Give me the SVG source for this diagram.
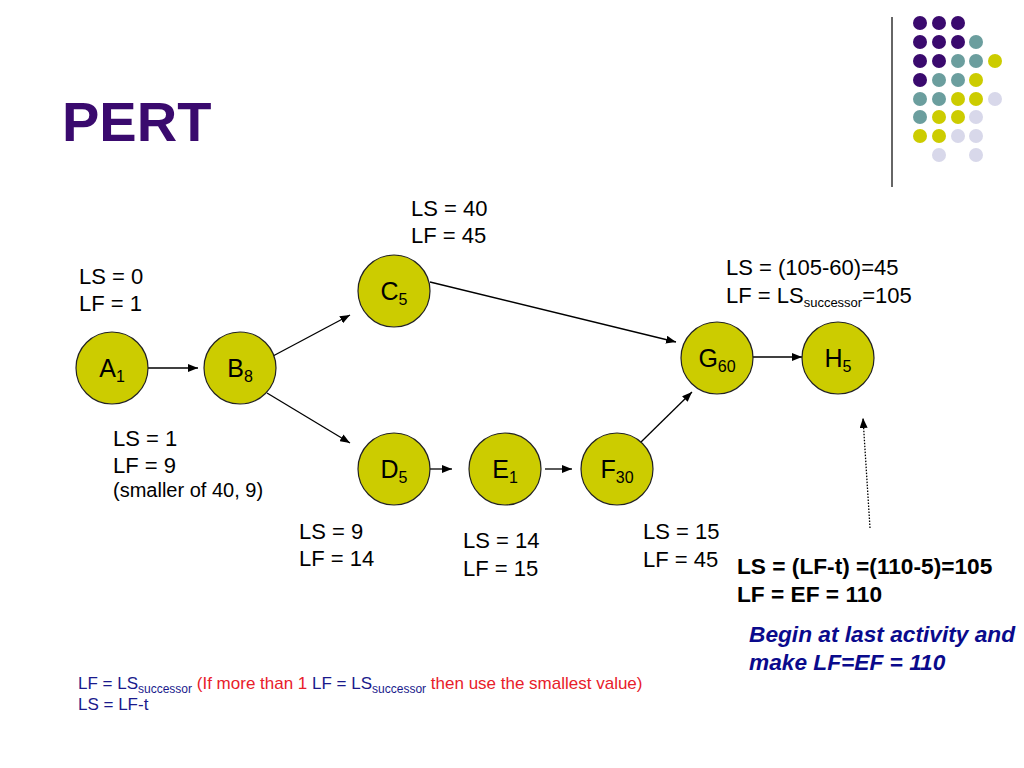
<svg xmlns="http://www.w3.org/2000/svg" width="1024" height="768" viewBox="0 0 1024 768">
<style>
  text { font-family: "Liberation Sans", Arial, sans-serif; }
  .lbl { font-size: 22px; fill: #000; }
  .node circle { fill: #cccc00; stroke: #222; stroke-width: 1.2; }
  .node text { font-size: 25px; fill: #000; text-anchor: middle; }
  .sub { font-size: 16px; }
  .conn line { stroke: #000; stroke-width: 1.3; marker-end: url(#ah); }
  .pu { fill: #3a0a6e; } .te { fill: #6b9e9e; } .ye { fill: #cccc00; } .la { fill: #d8d8ea; }
</style>
<defs>
  <marker id="ah" viewBox="0 0 10 8" refX="10" refY="4" markerWidth="10" markerHeight="8" markerUnits="userSpaceOnUse" orient="auto">
    <path d="M0,0 L10,4 L0,8 z" fill="#000"/>
  </marker>
</defs>
<rect width="1024" height="768" fill="#fff"/>

<g id="decor">
  <line x1="892" y1="17" x2="892" y2="187" stroke="#333" stroke-width="1.5"/>
  <circle class="pu" cx="920" cy="23" r="7"/><circle class="pu" cx="939" cy="23" r="7"/><circle class="pu" cx="958" cy="23" r="7"/>
  <circle class="pu" cx="920" cy="42" r="7"/><circle class="pu" cx="939" cy="42" r="7"/><circle class="pu" cx="958" cy="42" r="7"/><circle class="te" cx="976" cy="42" r="7"/>
  <circle class="pu" cx="920" cy="61" r="7"/><circle class="pu" cx="939" cy="61" r="7"/><circle class="te" cx="958" cy="61" r="7"/><circle class="te" cx="976" cy="61" r="7"/><circle class="ye" cx="995" cy="61" r="7"/>
  <circle class="pu" cx="920" cy="80" r="7"/><circle class="te" cx="939" cy="80" r="7"/><circle class="te" cx="958" cy="80" r="7"/><circle class="ye" cx="976" cy="80" r="7"/>
  <circle class="te" cx="920" cy="99" r="7"/><circle class="te" cx="939" cy="99" r="7"/><circle class="ye" cx="958" cy="99" r="7"/><circle class="ye" cx="976" cy="99" r="7"/><circle class="la" cx="995" cy="99" r="7"/>
  <circle class="te" cx="920" cy="117" r="7"/><circle class="ye" cx="939" cy="117" r="7"/><circle class="ye" cx="958" cy="117" r="7"/><circle class="la" cx="976" cy="117" r="7"/>
  <circle class="ye" cx="920" cy="136" r="7"/><circle class="ye" cx="939" cy="136" r="7"/><circle class="la" cx="958" cy="136" r="7"/><circle class="la" cx="976" cy="136" r="7"/>
  <circle class="la" cx="939" cy="155" r="7"/><circle class="la" cx="976" cy="155" r="7"/>
</g>

<text x="62" y="141" style="font-size:56px;font-weight:bold;fill:#3a0a6e">PERT</text>

<g id="connectors" class="conn">
  <line x1="148" y1="368" x2="198" y2="368"/>
  <line x1="273" y1="356" x2="350" y2="315"/>
  <line x1="267" y1="393" x2="350" y2="443"/>
  <line x1="430" y1="282" x2="676" y2="342"/>
  <line x1="428" y1="469" x2="452" y2="469"/>
  <line x1="545" y1="469" x2="572" y2="469"/>
  <line x1="640" y1="443" x2="692" y2="392"/>
  <line x1="751" y1="357" x2="802" y2="357"/>
  <line x1="870" y1="528" x2="863" y2="418" stroke-dasharray="1.5,1.5" stroke-width="1.3"/>
</g>

<g id="A" class="node"><circle cx="112" cy="368" r="36"/><text x="112" y="377">A<tspan class="sub" dy="5">1</tspan></text></g>
<g id="B" class="node"><circle cx="240" cy="368" r="36"/><text x="240" y="377">B<tspan class="sub" dy="5">8</tspan></text></g>
<g id="C" class="node"><circle cx="394" cy="291" r="36"/><text x="394" y="300">C<tspan class="sub" dy="5">5</tspan></text></g>
<g id="D" class="node"><circle cx="394" cy="469" r="36"/><text x="394" y="478">D<tspan class="sub" dy="5">5</tspan></text></g>
<g id="E" class="node"><circle cx="505" cy="469" r="36"/><text x="505" y="478">E<tspan class="sub" dy="5">1</tspan></text></g>
<g id="F" class="node"><circle cx="617" cy="469" r="36"/><text x="617" y="478">F<tspan class="sub" dy="5">30</tspan></text></g>
<g id="G" class="node"><circle cx="717" cy="358" r="36"/><text x="717" y="367">G<tspan class="sub" dy="5">60</tspan></text></g>
<g id="H" class="node"><circle cx="838" cy="358" r="36"/><text x="838" y="367">H<tspan class="sub" dy="5">5</tspan></text></g>

<g id="labels" class="lbl">
  <text class="lbl" x="79" y="284">LS = 0</text>
  <text class="lbl" x="79" y="311">LF = 1</text>
  <text class="lbl" x="411" y="216">LS = 40</text>
  <text class="lbl" x="411" y="243">LF = 45</text>
  <text class="lbl" x="726" y="275">LS = (105-60)=45</text>
  <text class="lbl" x="726" y="303">LF = LS<tspan style="font-size:13px" dy="4">successor</tspan><tspan dy="-4">=105</tspan></text>
  <text class="lbl" x="113" y="446">LS = 1</text>
  <text class="lbl" x="113" y="473">LF = 9</text>
  <text x="113" y="497" style="font-size:20px">(smaller of 40, 9)</text>
  <text class="lbl" x="299" y="539">LS = 9</text>
  <text class="lbl" x="299" y="566">LF = 14</text>
  <text class="lbl" x="463" y="548">LS = 14</text>
  <text class="lbl" x="463" y="576">LF = 15</text>
  <text class="lbl" x="643" y="539">LS = 15</text>
  <text class="lbl" x="643" y="567">LF = 45</text>
  <text x="737" y="574" style="font-size:22.7px;font-weight:bold">LS = (LF-t) =(110-5)=105</text>
  <text x="737" y="602" style="font-size:22.7px;font-weight:bold">LF = EF = 110</text>
  <text x="749" y="642" style="font-size:22.7px;font-weight:bold;font-style:italic;fill:#0a0a8c">Begin at last activity and</text>
  <text x="749" y="670" style="font-size:22.7px;font-weight:bold;font-style:italic;fill:#0a0a8c">make LF=EF = 110</text>
  <text x="78" y="689" style="font-size:17px;fill:#1a1a8c">LF = LS<tspan style="font-size:12px" dy="4">successor</tspan><tspan dy="-4" fill="#e8202a"> (If more than 1 </tspan>LF = LS<tspan style="font-size:12px" dy="4">successor</tspan><tspan dy="-4" fill="#e8202a"> then use the smallest value)</tspan></text>
  <text x="78" y="710" style="font-size:17px;fill:#1a1a8c">LS = LF-t</text>
</g>
</svg>
